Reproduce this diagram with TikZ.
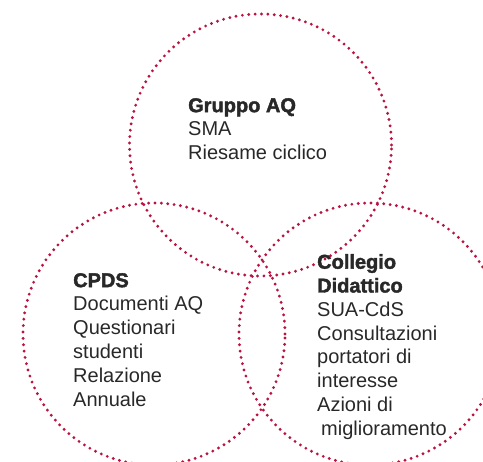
\documentclass[tikz,border=0pt]{standalone}
\usepackage{fontspec}
\setmainfont[BoldFeatures={FakeBold=2}]{Liberation Sans}
\begin{document}
\begin{tikzpicture}[x=1pt,y=1pt,
  ring/.style={draw=ringred, line width=3.2pt, line cap=round, dash pattern=on 0pt off 6.4pt},
  label/.style={anchor=north west, inner sep=0pt, align=left, text=textgray,
    font=\fontsize{20}{23.8}\selectfont},
  ]
\definecolor{ringred}{RGB}{185,20,65}
\definecolor{textgray}{RGB}{40,40,40}
\useasboundingbox (0,0) rectangle (483,462);
\path (260.5,317) coordinate (ctop) (154,128) coordinate (cleft) (370,128) coordinate (cright);
\draw[ring] (ctop) circle[radius=131];
\draw[ring] (cleft) circle[radius=131];
\draw[ring] (cright) circle[radius=131];
\node[label] (gaq) at (188,364) {\textbf{Gruppo AQ}\\SMA\\Riesame ciclico};
\node[label] (cpds) at (73,189) {\textbf{CPDS}\\Documenti AQ\\Questionari\\studenti\\Relazione\\Annuale};
\node[label] (cd) at (317,208) {\textbf{Collegio}\\\textbf{Didattico}\\SUA-CdS\\Consultazioni\\portatori di\\interesse\\Azioni di\\\hspace*{4pt}miglioramento};
\end{tikzpicture}
\end{document}
